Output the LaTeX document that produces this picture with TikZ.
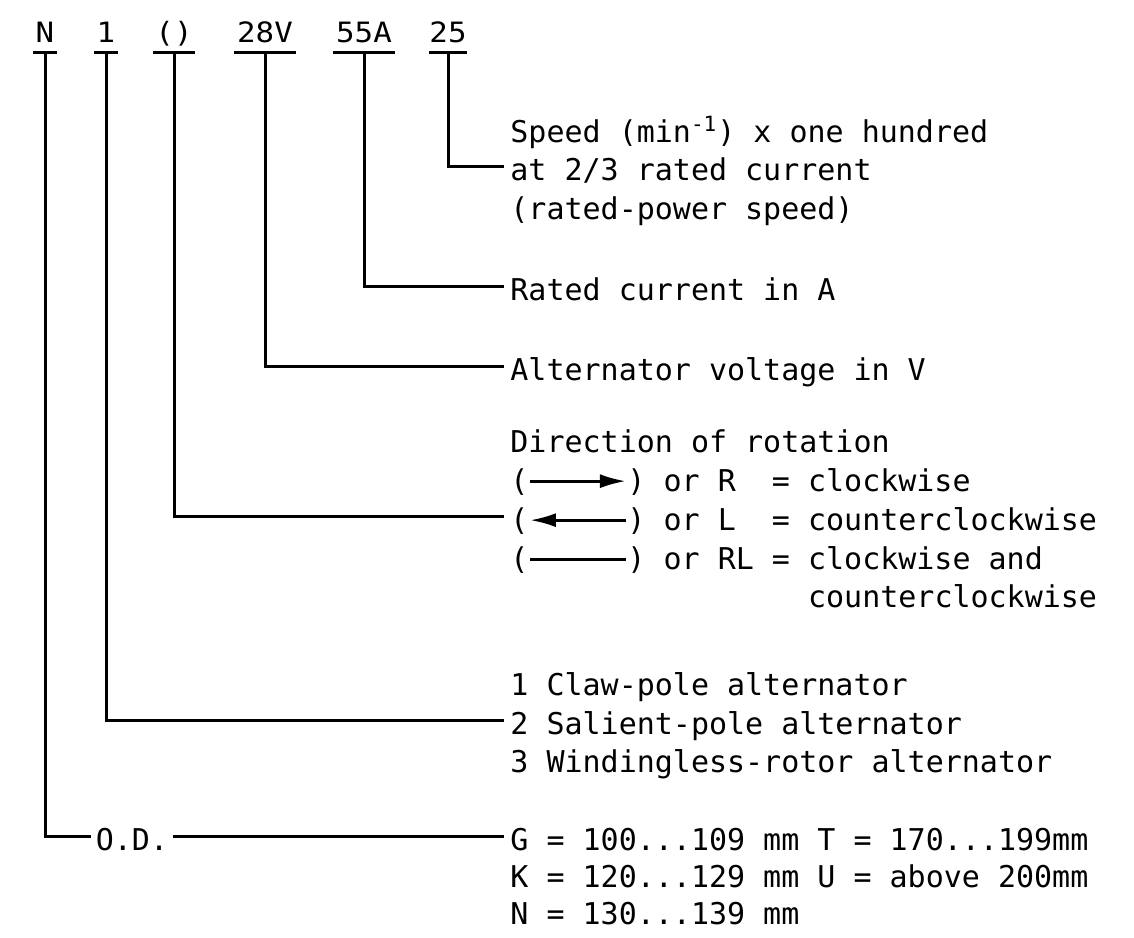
\documentclass[tikz,border=0pt]{standalone}
\usepackage{fontspec}
\setmainfont{DejaVu Sans Mono}
\newfontfamily\codefont[FakeStretch=1.1]{DejaVu Sans Mono}
\usetikzlibrary{arrows.meta}

\tikzset{
  conn/.style={line width=1.5pt},
  codelbl/.style={anchor=south, inner xsep=0pt, inner ysep=4.5pt, text depth=0pt,
    minimum width=#1, font=\codefont\fontsize{14}{16}\selectfont},
  desc/.style={anchor=base west, inner xsep=3pt, inner ysep=0pt, text height=14pt,
    text depth=0pt, font=\fontsize{15}{19}\selectfont},
}
% parenthesised direction symbol
\newcommand{\rotline}[1]{(\tikz[baseline=-0.6ex]\draw[line width=1.5pt,#1] (0pt,0pt) -- (48pt,0pt);)}

\begin{document}
\begin{tikzpicture}[x=0.5pt,y=-0.5pt]
\useasboundingbox (0,0) rectangle (1134,937);

% type code
\node[codelbl=11.5pt] (codeN) at (45,52) {N};
\node[codelbl=11.5pt] (code1) at (106,52) {1};
\node[codelbl=21pt] (codeDir) at (174,52) {()};
\node[codelbl=30.5pt] (codeV) at (265,52) {28V};
\node[codelbl=31pt] (codeA) at (364,52) {55A};
\node[codelbl=18.5pt] (codeS) at (448,52) {25};
\foreach \c in {codeN,code1,codeDir,codeV,codeA,codeS}
  \draw[conn] (\c.south west) -- (\c.south east);

% explanations
\node[desc] (speedA) at (504,142) {Speed (min\textsuperscript{-1}) x one hundred};
\node[desc] (speedB) at (504,180) {at 2/3 rated current};
\node[desc] (speedC) at (504,219) {(rated-power speed)};
\node[desc] (current) at (504,300) {Rated current in A};
\node[desc] (voltage) at (504,380) {Alternator voltage in V};
\node[desc] (dirA) at (504,452) {Direction of rotation};
\node[desc] (dirB) at (504,491) {\rotline{-{Latex[length=13pt,width=7pt]}} or R~~= clockwise};
\node[desc] (dirC) at (504,530) {\rotline{{Latex[length=13pt,width=7pt]}-} or L~~= counterclockwise};
\node[desc] (dirD) at (504,569) {\rotline{} or RL = clockwise and};
\node[desc] (dirE) at (504,607) {\hphantom{\rotline{} or RL = }counterclockwise};
\node[desc] (typeA) at (504,695) {1 Claw-pole alternator};
\node[desc] (typeB) at (504,734) {2 Salient-pole alternator};
\node[desc] (typeC) at (504,772) {3 Windingless-rotor alternator};
\node[desc] (odA) at (504,850) {G = 100...109 mm T = 170...199mm};
\node[desc] (odB) at (504,887) {K = 120...129 mm U = above 200mm};
\node[desc] (odC) at (504,924) {N = 130...139 mm};
\node[desc, anchor=base, inner xsep=2pt] (od) at (132,850) {O.D.};

% connectors
\draw[conn] (codeS.south) |- (speedB.west);
\draw[conn] (codeA.south) |- (current.west);
\draw[conn] (codeV.south) |- (voltage.west);
\draw[conn] (codeDir.south) |- (dirC.west);
\draw[conn] (code1.south) |- (typeB.west);
\draw[conn] (codeN.south) |- (od.west);
\draw[conn] (od.east) -- (odA.west);
\end{tikzpicture}
\end{document}
